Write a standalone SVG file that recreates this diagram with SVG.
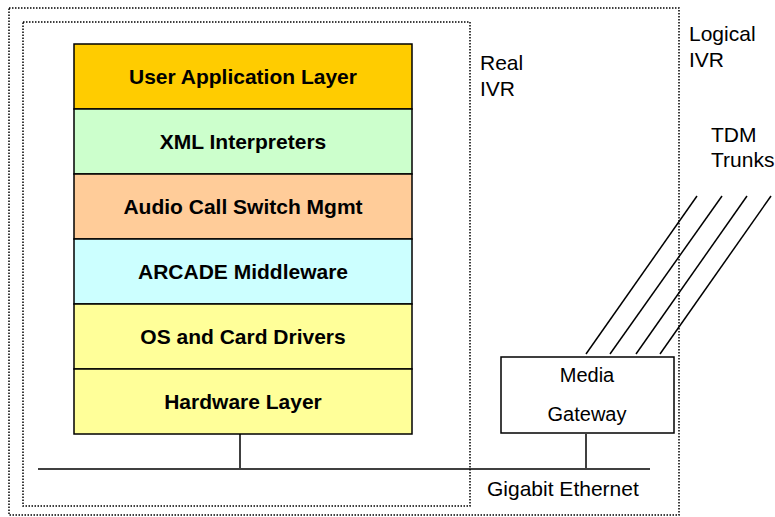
<svg xmlns="http://www.w3.org/2000/svg" width="775" height="517" viewBox="0 0 775 517">
  <style>
    .dot { fill: none; stroke: #000; stroke-width: 1.5; stroke-dasharray: 1.5 1.5; }
    .layer { stroke: #000; stroke-width: 1.5; }
    .ltxt { font-family: "Liberation Sans", Arial, sans-serif; font-size: 21px; font-weight: bold; text-anchor: middle; fill: #000; }
    .lbl { font-family: "Liberation Sans", Arial, sans-serif; font-size: 21px; fill: #000; }
    .wire { stroke: #000; stroke-width: 1.5; fill: none; }
  </style>
  <rect width="775" height="517" fill="#fff"/>

  <!-- boundaries -->
  <g id="logical-ivr">
    <rect class="dot" x="9" y="8" width="670" height="507"/>
    <text class="lbl" x="689" y="41">Logical</text>
    <text class="lbl" x="689" y="67">IVR</text>
  </g>
  <g id="real-ivr">
    <rect class="dot" x="23" y="22" width="447" height="484"/>
    <text class="lbl" x="480" y="70">Real</text>
    <text class="lbl" x="480" y="96">IVR</text>
  </g>

  <!-- software / hardware stack -->
  <g id="layer-user-app">
    <rect class="layer" x="74" y="44" width="338" height="65" fill="#FFCC00"/>
    <text class="ltxt" x="243" y="84">User Application Layer</text>
  </g>
  <g id="layer-xml">
    <rect class="layer" x="74" y="109" width="338" height="65" fill="#CCFFCC"/>
    <text class="ltxt" x="243" y="149">XML Interpreters</text>
  </g>
  <g id="layer-audio">
    <rect class="layer" x="74" y="174" width="338" height="65" fill="#FFCC99"/>
    <text class="ltxt" x="243" y="214">Audio Call Switch Mgmt</text>
  </g>
  <g id="layer-arcade">
    <rect class="layer" x="74" y="239" width="338" height="65" fill="#CCFFFF"/>
    <text class="ltxt" x="243" y="279">ARCADE Middleware</text>
  </g>
  <g id="layer-os">
    <rect class="layer" x="74" y="304" width="338" height="65" fill="#FFFF99"/>
    <text class="ltxt" x="243" y="344">OS and Card Drivers</text>
  </g>
  <g id="layer-hw">
    <rect class="layer" x="74" y="369" width="338" height="65" fill="#FFFF99"/>
    <text class="ltxt" x="243" y="409">Hardware Layer</text>
  </g>

  <g id="media-gateway">
    <rect class="layer" x="501" y="357" width="173" height="76" fill="#fff"/>
    <text class="lbl" x="587" y="382" text-anchor="middle" style="font-size:20px">Media</text>
    <text class="lbl" x="587" y="421" text-anchor="middle" style="font-size:20px">Gateway</text>
  </g>

  <g id="tdm-label">
    <text class="lbl" x="711" y="142">TDM</text>
    <text class="lbl" x="711" y="167">Trunks</text>
  </g>

  <g id="ethernet-label">
    <text class="lbl" x="487" y="496">Gigabit Ethernet</text>
  </g>

  <!-- connectors -->
  <g id="connectors">
    <line class="wire" x1="38" y1="469" x2="650" y2="469"/>
    <line class="wire" x1="240" y1="434" x2="240" y2="468"/>
    <line class="wire" x1="586" y1="434" x2="586" y2="468"/>
    <line class="wire" x1="586" y1="354" x2="697" y2="196"/>
    <line class="wire" x1="610" y1="354" x2="722" y2="196"/>
    <line class="wire" x1="636" y1="354" x2="747" y2="196"/>
    <line class="wire" x1="660" y1="354" x2="771" y2="196"/>
  </g>
</svg>
